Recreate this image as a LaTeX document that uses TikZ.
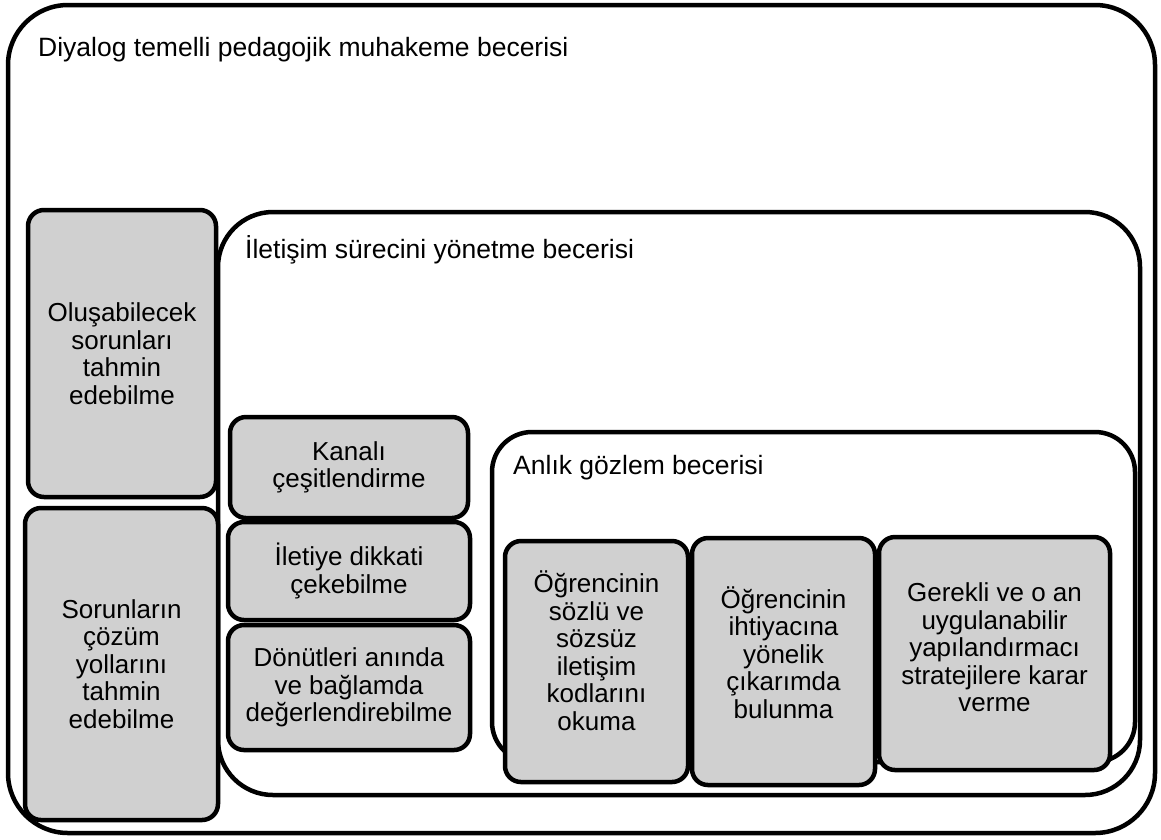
\documentclass[tikz,border=0pt]{standalone}
\usepackage{fontspec}
\setmainfont{Liberation Sans}
\usepackage{tikz}
\usetikzlibrary{positioning}
\definecolor{boxgray}{RGB}{208,208,208}
\tikzset{font=\fontsize{26.5}{28}\selectfont}
\tikzset{frame/.style={draw, line width=4.5pt, rounded corners=#1, inner sep=0pt},
  graybox/.style={draw, fill=boxgray, line width=4.5pt, rounded corners=16pt,
    inner sep=0pt, align=center, font=\fontsize{26}{27.5}\selectfont},
  boxtext/.style={inner sep=0pt, align=center, font=\fontsize{26}{27.5}\selectfont},
  heading/.style={anchor=base west, inner sep=0pt}}

\begin{document}
\begin{tikzpicture}[x=1pt,y=-1pt]
  \useasboundingbox (0,0) rectangle (1161,839);
  % containers
  \node[frame=60pt, minimum width=1147pt, minimum height=828pt] (dialog) at (581.5,419) {};
  \node[frame=55pt, minimum width=922pt, minimum height=583pt] (iletisim) at (679,503.5) {};
  \node[frame=40pt, minimum width=643pt, minimum height=330pt] (anlik) at (813.5,597) {};
  \node[heading] (dialogtitle) at (38,56) {Diyalog temelli pedagojik muhakeme becerisi};
  \node[heading] (iletisimtitle) at (245,258) {İletişim sürecini yönetme becerisi};
  \node[heading] (anliktitle) at (513,474) {Anlık gözlem becerisi};
  % left column
  \node[graybox, minimum width=188pt, minimum height=287pt] (sorun) at (122,353.5)
    {Oluşabilecek\\sorunları\\tahmin\\edebilme};
  \node[graybox, minimum width=193pt, minimum height=312pt] (cozum) at (121.5,664)
    {Sorunların\\çözüm\\yollarını\\tahmin\\edebilme};
  % middle column
  \node[graybox, minimum width=238pt, minimum height=101pt] (kanal) at (349,467.5)
    {Kanalı\\çeşitlendirme};
  \node[graybox, minimum width=242pt, minimum height=98pt] (dikkat) at (349,571)
    {İletiye dikkati\\çekebilme};
  \node[graybox, minimum width=242pt, minimum height=125pt] (donut) at (349,687.5)
    {Dönütleri anında\\ve bağlamda\\değerlendirebilme};
  % right row, text sits a little above the middle
  \node[graybox, minimum width=183pt, minimum height=241pt] (kod) at (596.5,661.5) {};
  \node[graybox, minimum width=183pt, minimum height=247pt] (ihtiyac) at (783.5,661.5) {};
  \node[graybox, minimum width=231pt, minimum height=233pt] (strateji) at (994.5,653.5) {};
  \node[boxtext] (kodtext) at ([yshift=11pt]kod.center)
    {Öğrencinin\\sözlü ve\\sözsüz\\iletişim\\kodlarını\\okuma};
  \node[boxtext] (ihtiyactext) at ([yshift=9pt]ihtiyac.center)
    {Öğrencinin\\ihtiyacına\\yönelik\\çıkarımda\\bulunma};
  \node[boxtext] (stratejitext) at ([yshift=6pt]strateji.center)
    {Gerekli ve o an\\uygulanabilir\\yapılandırmacı\\stratejilere karar\\verme};
\end{tikzpicture}
\end{document}
